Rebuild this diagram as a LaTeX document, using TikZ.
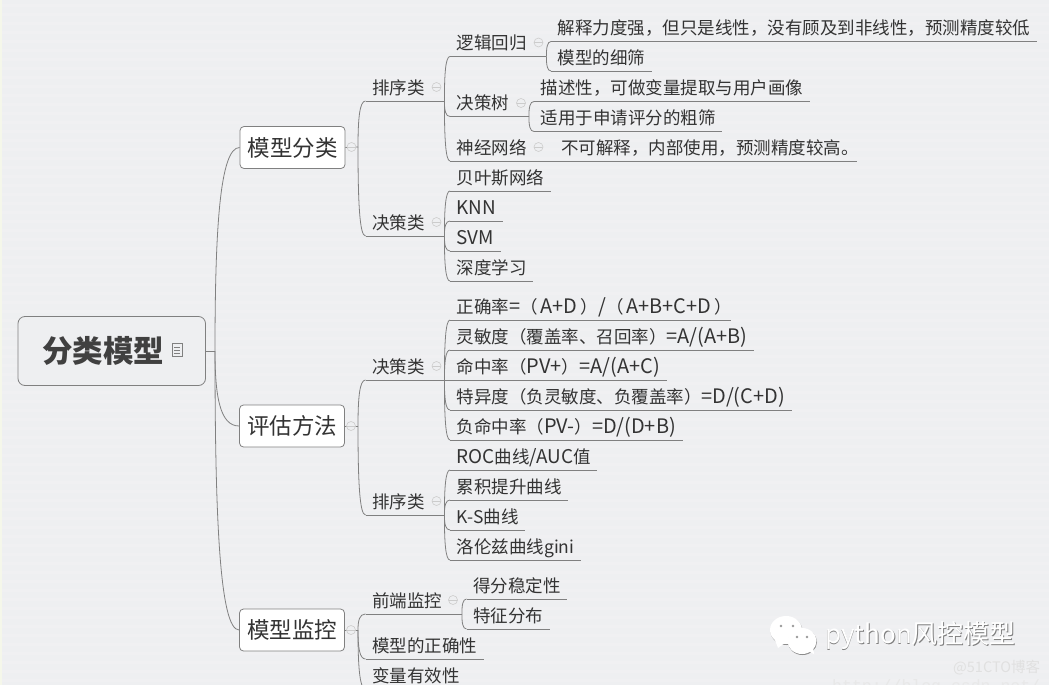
\documentclass[tikz,border=0pt]{standalone}
\usepackage{xcolor}
\usepackage{fontspec}
\usepackage{tikz}
\usetikzlibrary{calc}
\setmainfont{Noto Sans CJK SC}
\newfontfamily\wideA[Scale=1.14]{Noto Sans CJK SC}
\newfontfamily\wideB[Scale=1.08]{Noto Sans CJK SC}
\newfontfamily\urlfont{Liberation Mono}
\definecolor{paper}{HTML}{EEEFF1}
\definecolor{paperedge}{HTML}{F5F7EA}
\definecolor{ink}{HTML}{333333}
\definecolor{wire}{HTML}{808080}
\begin{document}
\begin{tikzpicture}[x=1pt, y=-1pt, text=ink,
  wire line/.style={draw=wire, line width=0.8pt},
  leaf/.style={anchor=south west, inner xsep=6.5pt, inner ysep=3.4pt, text height=14pt, text depth=3pt,
    font=\fontsize{17.5}{20}\selectfont,
    append after command={(\tikzlastnode.south west) edge[wire line] (\tikzlastnode.south east)}},
  branch/.style={leaf, execute at end node={\hspace{#1}}},
  topic/.style={rectangle, rounded corners=4pt, wire line, fill=white, minimum width=105pt, minimum height=42pt,
    inner sep=0pt, font=\fontsize{22.5}{26}\selectfont},
  toggle/.style={circle, draw=black!20, line width=0.6pt, fill=paper, minimum size=9pt, inner sep=0pt,
    path picture={\draw[black!20, line width=0.6pt] (path picture bounding box.west) -- (path picture bounding box.east);}},
  fan/.style={wire line, to path={.. controls ($(\tikztostart)!0.6!(\tikztostart |- \tikztotarget)$) and ($(\tikztostart |- \tikztotarget)!0.2!(\tikztotarget)$) .. (\tikztotarget)}},
  mark text/.style={font=\fontsize{26}{30}\selectfont, inner sep=0pt}]
\useasboundingbox (0,0) rectangle (1049,685);
\clip (0,0) rectangle (1049,685);
\fill[paper] (0,0) rectangle (1049,685);
\fill[paperedge] (0,0) rectangle (2,685);
\foreach \y in {4,13,...,685} \fill[white, opacity=0.12] (2,\y) rectangle (1049,\y+3);

\node (root) [rectangle, rounded corners=7pt, wire line, fill=paper, minimum width=187.5pt, minimum height=69pt] at (111.75,351) {};
\node (roottext) [inner sep=0pt, text=black!75, font=\fontsize{30.5}{36}\bfseries\selectfont] at (103,351) {分类模型};
\node (rootnote) [rectangle, draw=black!50, line width=0.6pt, minimum width=10pt, minimum height=13pt, inner sep=0pt,
  path picture={\foreach \k in {-3,0,3} \draw[black!50, line width=0.6pt] ($(path picture bounding box.center)+(-3,\k)$) -- ++(6,0);}] at (177,350) {};
\coordinate (rootfork) at (215,351);

\node (modeltype) [topic] at (292.5,147.5) {模型分类};
\node (evalmethod) [topic] at (292,426) {评估方法};
\node (modelwatch) [topic] at (292,630) {模型监控};
\coordinate (typefork) at (358,147);
\coordinate (evalfork) at (358,426);
\coordinate (watchfork) at (358,630);

\node (typerank) [branch=13pt] at (365.5,101) {排序类};
\node (typedecide) [branch=13pt] at (365.5,236) {决策类};

\node (logit) [branch=13pt] at (450,56.5) {逻辑回归};
\node (tree) [branch=13pt] at (450,116.5) {决策树};
\node (neural) [branch=13pt] at (450,161) {神经网络};
\node (logitnote) [leaf] at (551,41.5) {解释力度强，但只是线性，没有顾及到非线性，预测精度较低};
\node (logitfine) [leaf] at (551,71) {模型的细筛};
\node (treenote) [leaf] at (534,101.5) {描述性，可做变量提取与用户画像};
\node (treecoarse) [leaf] at (534,131.5) {适用于申请评分的粗筛};
\node (neuralnote) [branch=-8pt] at (554.5,161) {不可解释，内部使用，预测精度较高。};

\node (bayes) [leaf] at (450,191) {贝叶斯网络};
\node (knn) [leaf] at (450,221) {{\wideB KNN}};
\node (svm) [leaf] at (450,251) {{\wideB SVM}};
\node (deep) [leaf] at (450,281) {深度学习};

\node (evaldecide) [branch=13pt] at (365.5,380) {决策类};
\node (evalrank) [branch=13pt] at (365.5,515) {排序类};

\node (accuracy) [branch=-8pt] at (450,320) {正确率{\wideA =}（\hspace{3pt}{\wideA A+D}\hspace{3pt}）{\wideA /}（\hspace{3pt}{\wideA A+B+C+D}\hspace{3pt}）};
\node (recall) [leaf] at (450,350) {灵敏度（覆盖率、召回率）{\wideA =A/(A+B)}};
\node (precision) [leaf] at (450,380) {命中率（{\wideA PV+}）{\wideA =A/(A+C)}};
\node (specific) [leaf] at (450,410) {特异度（负灵敏度、负覆盖率）{\wideA =D/(C+D)}};
\node (negative) [leaf] at (450,440) {负命中率（{\wideA PV-}）{\wideA =D/(D+B)}};

\node (roc) [leaf] at (450,470) {{\wideB ROC}曲线{\wideB /AUC}值};
\node (lift) [leaf] at (450,500) {累积提升曲线};
\node (ks) [leaf] at (450,530) {K-S曲线};
\node (lorenz) [leaf] at (450,560) {洛伦兹曲线gini};

\node (front) [branch=13pt] at (365.5,614) {前端监控};
\node (stable) [leaf] at (466.5,599) {得分稳定性};
\node (feature) [leaf] at (466.5,629) {特征分布};
\node (correct) [leaf] at (365.5,659) {模型的正确性};
\node (validity) [leaf] at (365.5,689) {变量有效性};

\draw[wire line] (root.east) -- (rootfork);
\draw[fan] (rootfork) to (modeltype.west);
\draw[fan] (rootfork) to (evalmethod.west);
\draw[fan] (rootfork) to (modelwatch.west);

\draw[wire line] (modeltype.east) -- (typefork);
\draw[wire line] (evalmethod.east) -- (evalfork);
\draw[wire line] (modelwatch.east) -- (watchfork);
\draw[fan] (typefork) to (typerank.south west);
\draw[fan] (typefork) to (typedecide.south west);
\draw[fan] (evalfork) to (evaldecide.south west);
\draw[fan] (evalfork) to (evalrank.south west);
\draw[fan] (watchfork) to (front.south west);
\draw[fan] (watchfork) to (correct.south west);
\draw[fan] (watchfork) to (validity.south west);

\draw[fan] (typerank.south east) to (logit.south west);
\draw[fan] (typerank.south east) to (tree.south west);
\draw[fan] (typerank.south east) to (neural.south west);
\draw[fan] (logit.south east) to (logitnote.south west);
\draw[fan] (logit.south east) to (logitfine.south west);
\draw[fan] (tree.south east) to (treenote.south west);
\draw[fan] (tree.south east) to (treecoarse.south west);
\draw[wire line] (neural.south east) -- (neuralnote.south west);

\draw[fan] (typedecide.south east) to (bayes.south west);
\draw[fan] (typedecide.south east) to (knn.south west);
\draw[fan] (typedecide.south east) to (svm.south west);
\draw[fan] (typedecide.south east) to (deep.south west);

\draw[fan] (evaldecide.south east) to (accuracy.south west);
\draw[fan] (evaldecide.south east) to (recall.south west);
\draw[wire line] (evaldecide.south east) -- (precision.south west);
\draw[fan] (evaldecide.south east) to (specific.south west);
\draw[fan] (evaldecide.south east) to (negative.south west);

\draw[fan] (evalrank.south east) to (roc.south west);
\draw[fan] (evalrank.south east) to (lift.south west);
\draw[fan] (evalrank.south east) to (ks.south west);
\draw[fan] (evalrank.south east) to (lorenz.south west);

\draw[fan] (front.south east) to (stable.south west);
\draw[fan] (front.south east) to (feature.south west);

\node (typetoggle) [toggle] at (351.5,147) {};
\node (evaltoggle) [toggle] at (351,426) {};
\node (watchtoggle) [toggle] at (351,630) {};
\node (ranktoggle) [toggle] at (436.5,87) {};
\node (decidetoggle) [toggle] at (436.5,222) {};
\node (logittoggle) [toggle] at (538.5,42.5) {};
\node (treetoggle) [toggle] at (521,103) {};
\node (neuraltoggle) [toggle] at (538.5,147) {};
\node (evaldecidetoggle) [toggle] at (436.5,366) {};
\node (evalranktoggle) [toggle] at (436.5,501) {};
\node (fronttoggle) [toggle] at (453,600) {};

\fill[black!45] (786.5,631) ellipse (16 and 14);
\fill[white] (786,630) ellipse (16 and 14);
\fill[white] (775,640) -- (778,648) -- (786,642) -- cycle;
\fill[black!45] (802.5,642) ellipse (14.5 and 13);
\fill[white] (802,641) ellipse (14.5 and 13);
\fill[white] (806,650) -- (814,654) -- (813,646) -- cycle;
\fill[black!40] (781,626) circle (1.3) (793,626) circle (1.3) (797,637) circle (1.3) (807,637) circle (1.3);
\node (markshadow) [mark text, anchor=west, text=black!50] at (825.7,636.7) {python风控模型};
\node (marktext) [mark text, anchor=west, text=white] at (825,636) {python风控模型};
\node (blogmark) [anchor=west, inner sep=0pt, text=black!12, font=\fontsize{14.5}{17}\selectfont] at (953,668) {@51CTO博客};
\node (urlmark) [anchor=west, inner sep=0pt, text=black!9, font=\urlfont\fontsize{16.5}{19}\selectfont] at (832,687) {http://blog.csdn.net/};
\end{tikzpicture}
\end{document}
